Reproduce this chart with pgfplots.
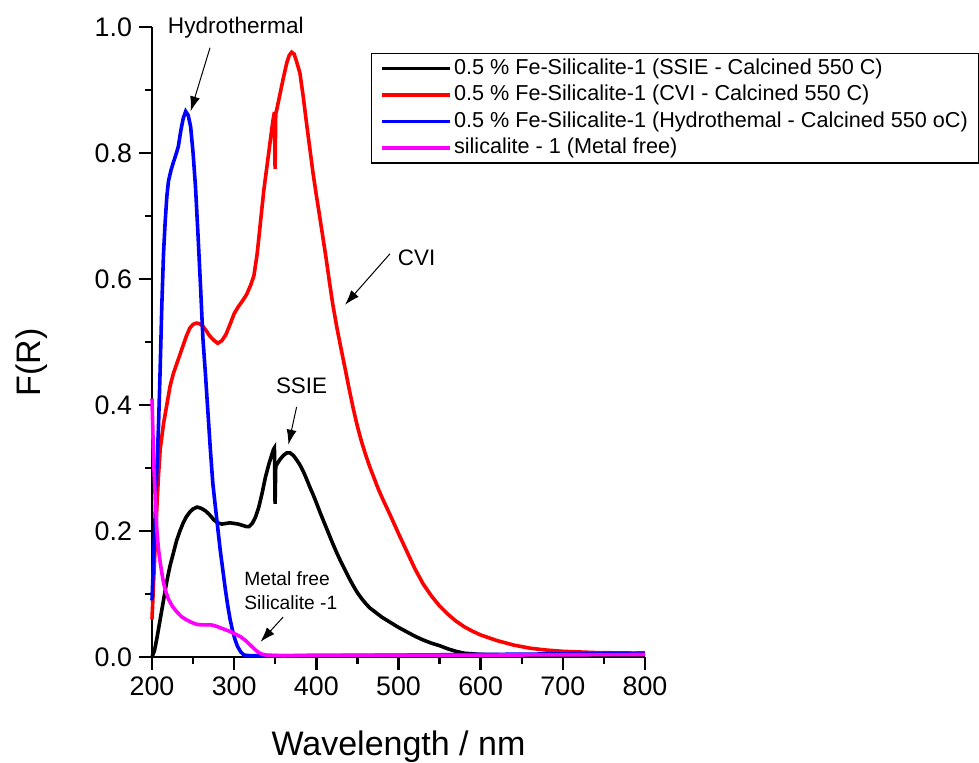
\documentclass[border=0pt]{standalone}
\usepackage{fontspec}
\setmainfont{Liberation Sans}
\usepackage{pgfplots}
\pgfplotsset{compat=1.18}
\usetikzlibrary{arrows.meta}
\definecolor{cblack}{RGB}{0,0,0}
\definecolor{cred}{RGB}{255,0,0}
\definecolor{cblue}{RGB}{0,0,255}
\definecolor{cmag}{RGB}{255,0,255}

% spectra, F(R) against wavelength in nm
\pgfplotstableread{
x y
200 0.0
203 0.01
206 0.03
210 0.06
214 0.09
218 0.12
222 0.145
226 0.165
230 0.185
234 0.2
238 0.213
242 0.223
246 0.23
250 0.235
255 0.238
260 0.236
265 0.232
270 0.226
275 0.218
280 0.213
285 0.211
290 0.212
295 0.213
300 0.212
305 0.211
310 0.209
315 0.207
318 0.207
322 0.212
326 0.222
330 0.238
334 0.26
338 0.285
342 0.305
346 0.322
348 0.33
349 0.332
349.8 0.243
350.6 0.302
352 0.306
356 0.314
360 0.32
364 0.324
368 0.324
372 0.32
376 0.313
380 0.305
384 0.295
388 0.283
392 0.27
396 0.258
400 0.245
405 0.228
410 0.212
415 0.196
420 0.18
425 0.165
430 0.151
435 0.138
440 0.125
445 0.113
450 0.102
455 0.093
460 0.085
465 0.078
470 0.073
480 0.063
490 0.055
500 0.047
510 0.04
520 0.033
530 0.027
540 0.022
550 0.018
560 0.013
570 0.009
580 0.006
600 0.004
650 0.003
700 0.003
800 0.003
}\ssie

\pgfplotstableread{
x y
200 0.06
202 0.12
204 0.18
206 0.24
208 0.29
210 0.33
214 0.37
218 0.40
222 0.43
226 0.45
230 0.465
234 0.48
238 0.495
242 0.51
246 0.522
250 0.528
254 0.53
258 0.529
262 0.525
266 0.518
270 0.51
275 0.503
280 0.498
285 0.502
290 0.512
295 0.528
300 0.545
305 0.556
310 0.565
315 0.575
320 0.59
324 0.605
328 0.64
332 0.69
336 0.74
340 0.78
344 0.82
347 0.85
349 0.865
349.8 0.775
350.6 0.862
352 0.87
356 0.895
360 0.92
364 0.943
367 0.955
370 0.96
373 0.957
376 0.945
380 0.927
384 0.89
388 0.848
392 0.808
396 0.768
400 0.733
404 0.70
408 0.666
412 0.632
416 0.595
420 0.56
425 0.523
430 0.49
435 0.458
440 0.425
445 0.394
450 0.366
455 0.342
460 0.321
465 0.302
470 0.285
475 0.268
480 0.253
490 0.225
500 0.196
510 0.168
520 0.14
530 0.116
540 0.097
550 0.081
560 0.068
570 0.057
580 0.048
590 0.041
600 0.035
620 0.026
640 0.019
660 0.014
680 0.011
700 0.009
740 0.007
800 0.006
}\cvi

\pgfplotstableread{
x y
200 0.09
202 0.16
204 0.23
206 0.30
208 0.37
210 0.46
212 0.56
214 0.64
216 0.69
218 0.73
220 0.755
223 0.772
226 0.785
229 0.797
232 0.81
235 0.835
238 0.855
241 0.866
244 0.86
247 0.842
250 0.80
253 0.745
256 0.67
259 0.59
262 0.505
265 0.45
268 0.39
271 0.33
274 0.276
277 0.24
280 0.205
283 0.17
286 0.14
289 0.11
292 0.083
295 0.06
298 0.042
301 0.028
304 0.017
308 0.008
312 0.003
320 0.002
400 0.002
500 0.003
600 0.004
700 0.005
800 0.006
}\hydro

\pgfplotstableread{
x y
200 0.41
201 0.36
202 0.31
204 0.25
206 0.20
208 0.17
210 0.15
213 0.125
216 0.107
220 0.092
225 0.08
230 0.072
236 0.064
242 0.059
248 0.055
254 0.052
260 0.051
266 0.051
272 0.051
278 0.049
284 0.046
290 0.043
296 0.04
302 0.036
308 0.032
314 0.026
318 0.021
322 0.016
326 0.011
330 0.007
335 0.004
340 0.003
360 0.002
400 0.003
600 0.003
800 0.004
}\metalfree

\begin{document}
\begin{tikzpicture}
\begin{axis}[
  name=ax, at={(0,0)}, anchor=south west,
  scale only axis, width=246.5pt, height=315pt,
  xmin=200, xmax=800, ymin=0, ymax=1,
  axis lines=left,
  axis line style={-, line width=1.2pt},
  xtick={200,300,...,800},
  ytick={0,0.2,...,1.0},
  minor x tick num=1, minor y tick num=1,
  tick align=outside,
  major tick length=6.5pt, minor tick length=3.5pt,
  tick style={line width=1.2pt, black},
  /pgf/number format/assume math mode=true,
  tick label style={font=\fontsize{13.4}{15}\selectfont},
  yticklabel style={/pgf/number format/.cd, fixed, fixed zerofill, precision=1},
  xticklabel style={/pgf/number format/.cd, fixed, precision=0},
  xlabel={Wavelength / nm},
  ylabel={F(R)},
  label style={font=\fontsize{17}{20}\selectfont},
  xlabel style={at={(axis description cs:0.5,-0.156)}, anchor=base},
  ylabel style={at={(axis description cs:-0.227,0.468)}, anchor=base},
  clip=false,
  legend style={at={(rel axis cs:0.444,0.959)}, anchor=north west,
    draw=black, line width=0.6pt, inner xsep=4.5pt, inner ysep=1pt,
    font=\fontsize{10.8}{13}\selectfont,
    nodes={inner sep=1pt, text height=8.5pt, text depth=2.7pt},
    cells={anchor=west}},
  legend image code/.code={\path (0pt,0pt) -- (34pt,0pt);
    \draw[#1, line width=1.5pt] (5.5pt,0pt) -- (31pt,0pt);},
  every axis plot/.append style={line width=1.8pt},
]
\addplot[cblack] table {\ssie};
\addlegendentry{0.5 \% Fe-Silicalite-1 (SSIE - Calcined 550 C)}
\addplot[cred] table {\cvi};
\addlegendentry{0.5 \% Fe-Silicalite-1 (CVI - Calcined 550 C)}
\addplot[cblue] table {\hydro};
\addlegendentry{0.5 \% Fe-Silicalite-1 (Hydrothemal - Calcined 550 oC)}
\addplot[cmag] table {\metalfree};
\addlegendentry{silicalite - 1 (Metal free)}

\node[anchor=base, font=\fontsize{11.3}{13}\selectfont] at (axis cs:302,0.989) {Hydrothermal};
\draw[line width=0.5pt, -{Latex[length=7.5pt, width=5pt]}] (axis cs:270.6,0.967) -- (axis cs:247,0.866);
\node[anchor=base, font=\fontsize{11.2}{13}\selectfont] at (axis cs:522,0.622) {CVI};
\draw[line width=0.5pt, -{Latex[length=7.5pt, width=5pt]}] (axis cs:489.6,0.64) -- (axis cs:434.9,0.559);
\node[anchor=base, font=\fontsize{11.2}{13}\selectfont] at (axis cs:382,0.419) {SSIE};
\draw[line width=0.5pt, -{Latex[length=7.5pt, width=5pt]}] (axis cs:376,0.397) -- (axis cs:366,0.337);
\node[anchor=base west, inner sep=0pt, font=\fontsize{9.6}{11}\selectfont] at (axis cs:312,0.113) {Metal free};
\node[anchor=base west, inner sep=0pt, font=\fontsize{9.6}{11}\selectfont] at (axis cs:312,0.076) {Silicalite -1};
\draw[line width=0.5pt, -{Latex[length=7.5pt, width=5pt]}] (axis cs:359.7,0.0635) -- (axis cs:332,0.024);
\end{axis}
\pgfresetboundingbox
\path (-76pt,-52.5pt) rectangle (413.5pt,328.5pt);
\end{tikzpicture}
\end{document}
